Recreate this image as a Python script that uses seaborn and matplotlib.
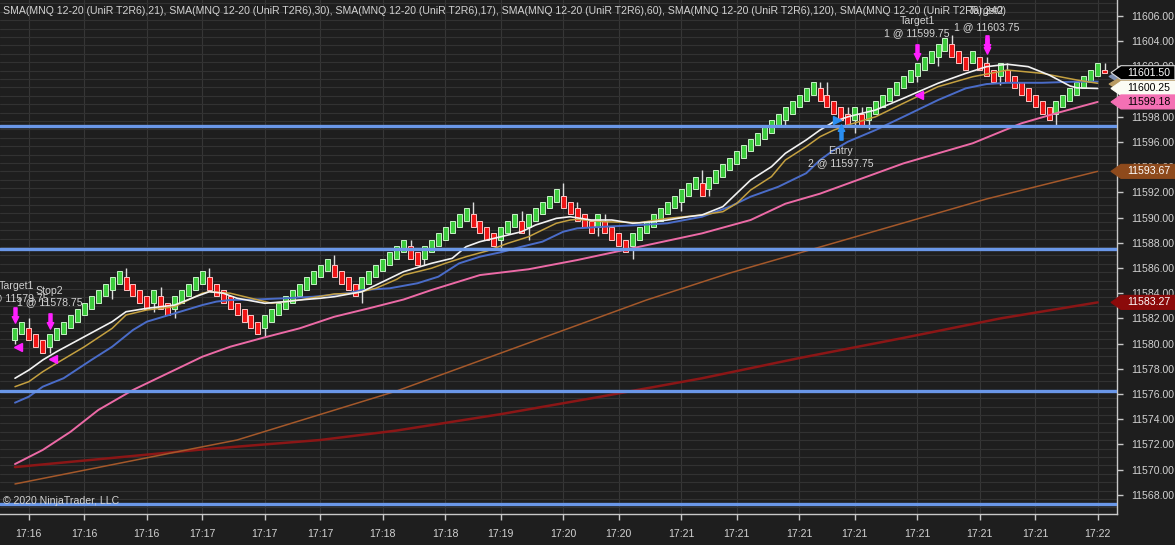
import numpy as np
import seaborn as sns
import matplotlib
matplotlib.use("Agg")
import matplotlib.pyplot as plt
from matplotlib.path import Path
from matplotlib.patches import Polygon
from matplotlib.transforms import blended_transform_factory
from matplotlib.ticker import FixedLocator

# Renko closes (UniR T2R6), one per bar
closes = [
    11581.25, 11581.75, 11580.25, 11579.75, 11579.25, 11580.75, 11581.25, 11581.75, 11582.25, 11582.75,
    11583.25, 11583.75, 11584.25, 11584.75, 11585.25, 11585.75, 11584.25, 11583.75, 11583.25, 11582.75,
    11584.25, 11582.75, 11582.25, 11583.75, 11584.25, 11584.75, 11585.25, 11585.75, 11584.25, 11583.75,
    11583.25, 11582.75, 11582.25, 11581.75, 11581.25, 11580.75, 11582.25, 11582.75, 11583.25, 11583.75,
    11584.25, 11584.75, 11585.25, 11585.75, 11586.25, 11586.75, 11585.25, 11584.75, 11584.25, 11583.75,
    11585.25, 11585.75, 11586.25, 11586.75, 11587.25, 11587.75, 11588.25, 11586.75, 11586.25, 11587.75,
    11588.25, 11588.75, 11589.25, 11589.75, 11590.25, 11590.75, 11589.25, 11588.75, 11588.25, 11587.75,
    11589.25, 11589.75, 11590.25, 11588.75, 11590.25, 11590.75, 11591.25, 11591.75, 11592.25, 11590.75,
    11590.25, 11589.75, 11589.25, 11588.75, 11590.25, 11588.75, 11588.25, 11587.75, 11587.25, 11588.75,
    11589.25, 11589.75, 11590.25, 11590.75, 11591.25, 11591.75, 11592.25, 11592.75, 11593.25, 11591.75,
    11593.25, 11593.75, 11594.25, 11594.75, 11595.25, 11595.75, 11596.25, 11596.75, 11597.25, 11597.75,
    11598.25, 11598.75, 11599.25, 11599.75, 11600.25, 11600.75, 11599.25, 11598.75, 11598.25, 11597.75,
    11597.25, 11598.75, 11597.25, 11598.75, 11599.25, 11599.75, 11600.25, 11600.75, 11601.25, 11601.75,
    11602.25, 11602.75, 11603.25, 11603.75, 11604.25, 11602.75, 11602.25, 11601.75, 11603.25, 11601.75,
    11601.25, 11600.75, 11602.25, 11600.75, 11600.25, 11599.75, 11599.25, 11598.75, 11598.25, 11597.75,
    11599.25, 11599.75, 11600.25, 11600.75, 11601.25, 11601.75, 11602.25, 11601.50,
]
BOX = 1.0            # renko body height
last_open = 11601.75  # the still forming bar

wick_bars = [0, 2, 5, 14, 16, 20, 21, 23, 28, 36, 46, 50, 57, 59, 66, 70, 73, 74, 79, 81,
             84, 85, 89, 96, 99, 100, 111, 116, 117, 120, 121, 122, 123, 130, 133, 135, 140,
             142, 143, 150, 157]
wick_ends = [11580.0, 11582.0, 11579.25, 11583.5, 11586.0, 11582.5, 11584.5, 11582.0, 11586.0,
             11580.5, 11587.0, 11583.25, 11588.25, 11586.25, 11591.25, 11587.25, 11590.5, 11588.25,
             11592.75, 11591.25, 11588.5, 11590.25, 11586.75, 11590.5, 11593.75, 11591.75, 11597.25,
             11600.75, 11600.75, 11598.75, 11596.75, 11598.75, 11597.0, 11600.75, 11602.0, 11604.5,
             11602.75, 11600.5, 11602.25, 11597.25, 11602.25]

# SMA lines, read at a number of bars
sma17_x = [0, 2, 4, 6, 10, 14, 16, 19, 23, 26, 28, 30, 32, 36, 39, 41, 44, 46, 50, 53, 56, 60, 63,
           65, 67, 70, 73, 75, 78, 80, 83, 86, 89, 92, 94, 97, 99, 102, 104, 106, 109, 111, 114,
           116, 118, 120, 124, 128, 133, 137, 140, 143, 146, 149, 152, 153, 156]
sma17_y = [11577.25, 11577.9, 11578.7, 11579.36, 11580.55, 11581.74, 11582.53, 11582.8, 11583.06,
           11583.72, 11584.12, 11584.0, 11583.6, 11583.2, 11583.33, 11583.46, 11583.6, 11583.72,
           11584.12, 11584.91, 11585.71, 11586.37, 11586.77, 11587.69, 11588.09, 11588.48,
           11588.88, 11589.41, 11589.94, 11590.07, 11589.81, 11589.81, 11589.55, 11589.67,
           11589.81, 11590.07, 11590.21, 11590.87, 11591.93, 11592.98, 11594.04, 11595.1,
           11596.16, 11596.95, 11597.61, 11598.0, 11598.54, 11599.47, 11600.66, 11601.45,
           11601.98, 11602.17, 11601.98, 11601.32, 11600.45, 11600.3, 11600.25]

sma21_x = [0, 2, 4, 6, 10, 14, 16, 19, 23, 27, 28, 31, 34, 37, 41, 46, 49, 52, 55, 56, 60, 62, 65,
           68, 71, 74, 76, 78, 80, 81, 85, 90, 94, 99, 102, 104, 106, 109, 111, 114, 116, 118, 120,
           124, 128, 133, 138, 143, 148, 153, 156]
sma21_y = [11576.58, 11576.98, 11577.77, 11578.44, 11579.75, 11581.21, 11582.27, 11582.67,
           11582.93, 11584.0, 11584.12, 11584.0, 11583.6, 11583.2, 11583.46, 11583.94, 11584.0,
           11584.39, 11585.1, 11585.44, 11585.98, 11586.37, 11586.9, 11587.35, 11587.96,
           11588.48, 11589.02, 11589.55, 11589.81, 11589.86, 11589.67, 11589.6, 11589.94,
           11590.21, 11590.47, 11591.13, 11592.19, 11593.25, 11594.57, 11595.63, 11596.42,
           11596.95, 11597.35, 11598.0, 11599.07, 11600.39, 11601.18, 11601.71, 11601.45,
           11600.92, 11600.66]

sma30_x = [0, 2, 4, 7, 11, 14, 17, 19, 23, 27, 29, 31, 35, 39, 43, 48, 50, 54, 58, 61, 64, 67, 70,
           73, 76, 79, 81, 85, 90, 94, 99, 103, 106, 110, 114, 116, 118, 120, 124, 128, 133, 137,
           140, 143, 148, 153, 156]
sma30_y = [11575.31, 11575.79, 11576.58, 11577.25, 11578.7, 11579.75, 11581.08, 11581.74,
           11582.4, 11583.06, 11583.33, 11583.46, 11583.51, 11583.6, 11583.72, 11584.0, 11584.25,
           11584.39, 11584.79, 11585.31, 11586.37, 11586.9, 11587.25, 11587.69, 11588.09,
           11588.88, 11589.15, 11589.28, 11589.41, 11589.55, 11590.07, 11590.87, 11591.66,
           11592.45, 11593.52, 11594.57, 11595.37, 11596.02, 11596.95, 11598.0, 11599.33,
           11600.26, 11600.6, 11600.7, 11600.7, 11600.79, 11600.79]

sma60_x = [0, 4, 8, 12, 17, 22, 27, 31, 36, 41, 46, 51, 56, 60, 67, 74, 81, 90, 99, 106, 111, 116,
           120, 128, 138, 145, 150, 156]
sma60_y = [11570.44, 11571.56, 11573.0, 11574.73, 11576.32, 11577.64, 11578.96, 11579.75,
           11580.5, 11581.21, 11582.13, 11582.8, 11583.5, 11584.25, 11585.44, 11585.9, 11586.63,
           11587.69, 11588.75, 11589.81, 11591.1, 11591.9, 11592.7, 11594.3, 11595.9, 11597.48,
           11598.28, 11599.18]

sma120_x = [0, 26, 32, 55, 91, 103, 140, 156]
sma120_y = [11568.86, 11571.7, 11572.35, 11576.24, 11583.46, 11585.6, 11591.48, 11593.67]

sma240_x = [0, 27, 44, 55, 70, 84, 99, 113, 128, 142, 156]
sma240_y = [11570.2, 11571.6, 11572.35, 11573.1, 11574.4, 11575.75, 11577.25, 11578.85,
            11580.45, 11582.0, 11583.27]

levels = [11597.25, 11587.5, 11576.25, 11567.25]

time_pos = [2, 10, 19, 27, 36, 44, 53, 62, 70, 79, 87, 96, 104, 113, 121, 130, 139, 147, 156]
time_lbl = ["17:16", "17:16", "17:16", "17:17", "17:17", "17:17", "17:18", "17:18", "17:19",
            "17:20", "17:20", "17:21", "17:21", "17:21", "17:21", "17:21", "17:21", "17:21",
            "17:22"]
price_ticks = list(range(11568, 11607, 2))

# trade marks
down_x = [0, 5, 130, 140, 140]
down_y = [11582.27, 11581.79, 11603.18, 11603.85, 11603.6]
exit_x = [0.4, 5.5, 130.3]
exit_y = [11579.75, 11578.75, 11599.75]
entry_x, entry_y = 119, 11596.79
entry_tri_x, entry_tri_y = 118.4, 11597.75
trade_text = ["Target1", "1 @ 11579.75", "Stop2", "1 @ 11578.75", "Entry", "2 @ 11597.75",
              "Target1", "1 @ 11599.75", "Target2", "1 @ 11603.75"]
trade_text_x = [0.15, 0.15, 5, 5, 119, 119, 130, 130, 140, 140]
trade_text_y = [11584.57, 11583.58, 11584.17, 11583.26, 11595.29, 11594.29, 11605.6, 11604.65,
                11606.4, 11605.13]

tag_vals = [11601.20, 11600.60, 11601.50, 11600.25, 11599.18, 11593.67, 11583.27]
tag_face = ["#7d8fb3", "#b89a62", "#000000", "#fbfbf4", "#f470b4", "#8e4a1c", "#8b0a0a"]
tag_text = ["", "", "#ffffff", "#000000", "#000000", "#ffffff", "#ffffff"]

legend_txt = ", ".join("SMA(MNQ 12-20 (UniR T2R6),%d)" % p for p in [21, 30, 17, 60, 120, 240])

# ---------------- drawing ----------------
BG = "#1e1e1e"
FG = "#d2d2d2"
FS = 7.6
sns.set_theme(style="dark")
plt.rcParams["font.family"] = ["Liberation Sans", "DejaVu Sans"]

fig = plt.figure(figsize=(11.75, 5.45), dpi=100, facecolor=BG)
ax = fig.add_axes([0, 31 / 545, 1117 / 1175, 514 / 545])
ax.set_facecolor(BG)

ax.set_xlim(-2.16, 158.79)
ax.set_ylim(11566.476, 11607.27)

# grid
ax.set_xticks(time_pos, time_lbl)
ax.set_yticks(price_ticks, ["%.2f" % p for p in price_ticks])
ax.yaxis.set_minor_locator(FixedLocator(np.arange(11567, 11607.5, 2 / 3)))
ax.grid(False)
ax.grid(axis="x", which="major", color="#363636", lw=0.8, zorder=0)
ax.grid(axis="y", which="minor", color="#323232", lw=0.8, zorder=0)
ax.set_axisbelow(True)

# candles
c = np.array(closes)
idx = np.arange(len(c))
d = np.sign(np.diff(c, prepend=c[0] - 1))
opens = c - d * BOX
opens[-1] = last_open
up = c > opens

wb = np.array(wick_bars)
we = np.array(wick_ends)
hi_body = np.maximum(opens, c)[wb]
lo_body = np.minimum(opens, c)[wb]
start = np.where(we > hi_body, hi_body, lo_body)
ax.vlines(wb, start, we, color="#dddddd", lw=1.0, zorder=3)

ax.bar(idx, c - opens, bottom=opens, width=0.72,
       color=np.where(up, "#3dcc3d", "#ee1515"),
       edgecolor=np.where(up, "#c6f2c6", "#ffc4c4"), linewidth=0.7, zorder=4)

# moving averages
lines = [
    (sma240_x, sma240_y, "#8b1616", 1.8),
    (sma120_x, sma120_y, "#a4582a", 1.1),
    (sma60_x, sma60_y, "#ec6aa6", 1.4),
    (sma30_x, sma30_y, "#4a6cc8", 1.4),
    (sma21_x, sma21_y, "#c4a040", 1.1),
    (sma17_x, sma17_y, "#f2f2f2", 1.2),
]
for xs, ys, col, lw in lines:
    sns.lineplot(x=xs, y=ys, ax=ax, color=col, lw=lw, zorder=5)

for lv in levels:
    ax.axhline(lv, color="#6a97e8", lw=2.4, zorder=6)

# trade marks
arrow = Path([(-0.2, 1), (0.2, 1), (0.2, -0.15), (0.42, -0.15), (0, -1), (-0.42, -0.15),
              (-0.2, -0.15), (-0.2, 1)], closed=True)
arrow_up = Path(arrow.vertices * [1, -1], closed=True)
ax.plot(down_x, down_y, ls="none", marker=arrow, ms=11, color="#ff1fff", mec="#ff1fff", zorder=8)
ax.plot(exit_x, exit_y, ls="none", marker="<", ms=5.5, color="#ff1fff", mec="#ff1fff", zorder=8)
ax.plot([entry_x], [entry_y], ls="none", marker=arrow_up, ms=11, color="#2a8ef0",
        mec="#2a8ef0", zorder=8)
ax.plot([entry_tri_x], [entry_tri_y], ls="none", marker=">", ms=5.5, color="#2a8ef0",
        mec="#2a8ef0", zorder=8)
for s, tx, ty in zip(trade_text, trade_text_x, trade_text_y):
    ax.text(tx, ty, s, ha="center", va="center", fontsize=FS, color=FG, zorder=9)

ax.text(3 / 1117, 1 - 11 / 514, legend_txt, transform=ax.transAxes, ha="left", va="center",
        fontsize=FS, color=FG, zorder=9)
ax.text(3 / 1117, 13 / 514, "\u00a9 2020 NinjaTrader, LLC", transform=ax.transAxes,
        ha="left", va="center", fontsize=FS, color=FG, zorder=9)

# axes styling
for side in ["left", "top"]:
    ax.spines[side].set_visible(False)
for side in ["right", "bottom"]:
    ax.spines[side].set_visible(True)
    ax.spines[side].set_color("#c8c8c8")
    ax.spines[side].set_linewidth(1.0)
ax.yaxis.tick_right()
ax.tick_params(axis="y", which="major", direction="out", length=4, width=1, color="#c8c8c8",
               labelcolor=FG, labelsize=FS, pad=6, right=True, left=False)
ax.tick_params(axis="y", which="minor", length=0)
ax.tick_params(axis="x", direction="out", length=4, width=1, color="#c8c8c8",
               labelcolor=FG, labelsize=FS, pad=7, bottom=True)
ax.set_xlabel("")
ax.set_ylabel("")

# price tags on the right
trans = blended_transform_factory(fig.transFigure, ax.transData)
h = 7 / 12.6
W = 1175.0
for k, (v, fc, tc) in enumerate(zip(tag_vals, tag_face, tag_text)):
    tip = 1109 if tc == "" else 1111
    pts = [(tip / W, v), (1121 / W, v + h), (1.0, v + h), (1.0, v - h), (1121 / W, v - h)]
    ax.add_patch(Polygon(pts, closed=True, transform=trans, clip_on=False, facecolor=fc,
                         edgecolor="#d8d8d8" if fc == "#000000" else fc, lw=0.8,
                         zorder=18 + k))
    if tc:
        ax.text(1127 / W, v, "%.2f" % v, transform=trans, clip_on=False, ha="left",
                va="center", fontsize=FS, color=tc, zorder=30)

fig.savefig("out.png", dpi=100, facecolor=BG)
